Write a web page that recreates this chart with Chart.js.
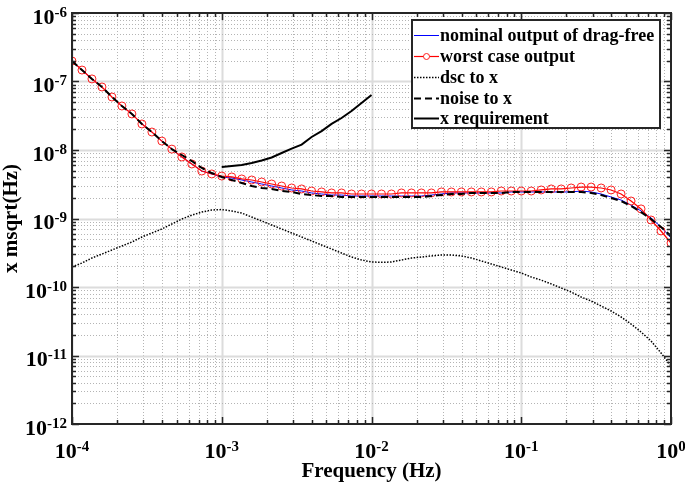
<!DOCTYPE html>
<html>
<head>
<meta charset="utf-8">
<script src="https://cdn.jsdelivr.net/npm/chart.js@4.4.1/dist/chart.umd.min.js"></script>
<style>
  html, body { margin: 0; padding: 0; background: #fff; }
  canvas { display: block; }
</style>
</head>
<body>
<canvas id="chart" width="685" height="487"></canvas>
<script>
// frequency grid of the curves (Hz), 15 points per decade
const freq = [
  1.000e-4, 1.166e-4, 1.359e-4, 1.585e-4, 1.848e-4, 2.154e-4, 2.512e-4, 2.929e-4, 3.415e-4, 3.981e-4, 4.642e-4, 5.412e-4, 6.310e-4, 7.356e-4, 8.577e-4,
  1.000e-3, 1.166e-3, 1.359e-3, 1.585e-3, 1.848e-3, 2.154e-3, 2.512e-3, 2.929e-3, 3.415e-3, 3.981e-3, 4.642e-3, 5.412e-3, 6.310e-3, 7.356e-3, 8.577e-3,
  1.000e-2, 1.166e-2, 1.359e-2, 1.585e-2, 1.848e-2, 2.154e-2, 2.512e-2, 2.929e-2, 3.415e-2, 3.981e-2, 4.642e-2, 5.412e-2, 6.310e-2, 7.356e-2, 8.577e-2,
  1.000e-1, 1.166e-1, 1.359e-1, 1.585e-1, 1.848e-1, 2.154e-1, 2.512e-1, 2.929e-1, 3.415e-1, 3.981e-1, 4.642e-1, 5.412e-1, 6.310e-1, 7.356e-1, 8.577e-1,
  1.000
];

const nominal = [
  1.99e-7, 1.47e-7, 1.09e-7, 8.32e-8, 5.94e-8, 4.39e-8, 3.36e-8, 2.40e-8, 1.83e-8, 1.35e-8, 1.03e-8, 7.91e-9, 6.25e-9, 4.93e-9, 4.47e-9,
  4.04e-9, 3.90e-9, 3.65e-9, 3.41e-9, 3.19e-9, 2.98e-9, 2.79e-9, 2.61e-9, 2.52e-9, 2.36e-9, 2.28e-9, 2.20e-9, 2.20e-9, 2.13e-9, 2.13e-9,
  2.13e-9, 2.13e-9, 2.13e-9, 2.13e-9, 2.13e-9, 2.13e-9, 2.20e-9, 2.28e-9, 2.36e-9, 2.36e-9, 2.36e-9, 2.36e-9, 2.36e-9, 2.36e-9, 2.44e-9,
  2.44e-9, 2.44e-9, 2.44e-9, 2.44e-9, 2.44e-9, 2.44e-9, 2.52e-9, 2.44e-9, 2.28e-9, 2.06e-9, 1.86e-9, 1.57e-9, 1.29e-9, 1.02e-9, 7.52e-10,
  5.19e-10
];

const worstCase = [
  1.99e-7, 1.47e-7, 1.09e-7, 8.32e-8, 5.94e-8, 4.39e-8, 3.36e-8, 2.40e-8, 1.83e-8, 1.35e-8, 1.03e-8, 7.91e-9, 6.25e-9, 4.93e-9, 4.47e-9,
  4.17e-9, 4.04e-9, 3.78e-9, 3.65e-9, 3.41e-9, 3.19e-9, 2.98e-9, 2.79e-9, 2.70e-9, 2.52e-9, 2.44e-9, 2.36e-9, 2.36e-9, 2.28e-9, 2.28e-9,
  2.28e-9, 2.28e-9, 2.28e-9, 2.36e-9, 2.36e-9, 2.36e-9, 2.36e-9, 2.44e-9, 2.44e-9, 2.44e-9, 2.44e-9, 2.44e-9, 2.44e-9, 2.52e-9, 2.52e-9,
  2.52e-9, 2.52e-9, 2.61e-9, 2.70e-9, 2.70e-9, 2.79e-9, 2.88e-9, 2.88e-9, 2.79e-9, 2.61e-9, 2.28e-9, 1.80e-9, 1.38e-9, 9.51e-10, 6.57e-10,
  4.39e-10
];

const dscToX = [
  1.96e-10, 2.24e-10, 2.65e-10, 3.03e-10, 3.47e-10, 3.97e-10, 4.54e-10, 5.37e-10, 6.14e-10, 7.03e-10, 8.32e-10, 9.84e-10, 1.12e-9, 1.24e-9, 1.33e-9,
  1.35e-9, 1.29e-9, 1.20e-9, 1.05e-9, 9.20e-10, 8.04e-10, 7.03e-10, 6.14e-10, 5.37e-10, 4.70e-10, 4.10e-10, 3.59e-10, 3.13e-10, 2.74e-10, 2.48e-10,
  2.32e-10, 2.29e-10, 2.32e-10, 2.48e-10, 2.65e-10, 2.74e-10, 2.84e-10, 2.93e-10, 2.93e-10, 2.84e-10, 2.65e-10, 2.40e-10, 2.17e-10, 1.96e-10, 1.77e-10,
  1.60e-10, 1.40e-10, 1.26e-10, 1.11e-10, 9.67e-11, 8.45e-11, 7.14e-11, 6.25e-11, 5.28e-11, 4.47e-11, 3.65e-11, 2.88e-11, 2.20e-11, 1.63e-11, 1.09e-11,
  7.03e-12
];

const noiseToX = [
  1.99e-7, 1.47e-7, 1.09e-7, 8.32e-8, 5.94e-8, 4.39e-8, 3.36e-8, 2.40e-8, 1.83e-8, 1.35e-8, 1.03e-8, 8.45e-9, 6.90e-9, 5.46e-9, 4.61e-9,
  4.04e-9, 3.65e-9, 3.30e-9, 2.98e-9, 2.79e-9, 2.70e-9, 2.52e-9, 2.44e-9, 2.28e-9, 2.20e-9, 2.13e-9, 2.13e-9, 2.06e-9, 2.06e-9, 2.06e-9,
  2.06e-9, 2.06e-9, 2.06e-9, 2.06e-9, 2.06e-9, 2.06e-9, 2.13e-9, 2.20e-9, 2.28e-9, 2.28e-9, 2.36e-9, 2.36e-9, 2.36e-9, 2.36e-9, 2.44e-9,
  2.44e-9, 2.44e-9, 2.44e-9, 2.44e-9, 2.44e-9, 2.44e-9, 2.44e-9, 2.36e-9, 2.20e-9, 1.99e-9, 1.80e-9, 1.52e-9, 1.24e-9, 9.84e-10, 7.52e-10,
  5.56e-10
];

// requirement only defined between 1e-3 and 1e-2 Hz
const reqFreq = [
  1.000e-3, 1.166e-3, 1.359e-3, 1.585e-3, 1.848e-3, 2.154e-3, 2.512e-3, 2.929e-3, 3.415e-3, 3.981e-3, 4.642e-3, 5.412e-3, 6.310e-3, 7.356e-3, 8.577e-3,
  1.000e-2
];
const requirement = [
  5.65e-9, 5.84e-9, 6.04e-9, 6.46e-9, 7.03e-9, 7.78e-9, 9.04e-9, 1.05e-8, 1.20e-8, 1.55e-8, 1.89e-8, 2.40e-8, 2.93e-8, 3.71e-8, 4.85e-8,
  6.35e-8
];

const xTickExps = [-4, -3, -2, -1, 0];
const yTickExps = [-12, -11, -10, -9, -8, -7, -6];
const seriesNames = ['nominal output of drag-free', 'worst case output', 'dsc to x', 'noise to x', 'x requirement'];

const SERIF = '"Liberation Serif", "Times New Roman", serif';

function toPoints(xs, ys) {
    return xs.map((f, i) => ({ x: f, y: ys[i] }));
}

// 10 with a raised exponent, like matlab tick labels
function powerLabel(ctx, exp, x, y, align) {
    const base = '10';
    const sup = String(exp);
    ctx.font = 'bold 22px ' + SERIF;
    const wb = ctx.measureText(base).width;
    ctx.font = 'bold 15px ' + SERIF;
    const ws = ctx.measureText(sup).width;
    const x0 = align === 'right' ? x - wb - ws : x - (wb + ws) / 2;
    ctx.fillStyle = '#000';
    ctx.textAlign = 'left';
    ctx.textBaseline = 'alphabetic';
    ctx.font = 'bold 22px ' + SERIF;
    ctx.fillText(base, x0, y);
    ctx.font = 'bold 15px ' + SERIF;
    ctx.fillText(sup, x0 + wb, y - 7);
}

function drawGrid(chart) {
    const { ctx, chartArea: a, scales } = chart;
    ctx.save();
    ctx.beginPath();
    ctx.rect(a.left, a.top, a.right - a.left, a.bottom - a.top);
    ctx.clip();

    // vertical lines
    for (let e = -4; e < 0; e++) {
        for (let m = 1; m <= 9; m++) {
            const px = Math.round(scales.x.getPixelForValue(m * Math.pow(10, e))) + 0.5;
            ctx.beginPath();
            if (m === 1) {
                ctx.setLineDash([]);
                ctx.strokeStyle = '#dcdcdc';
                ctx.lineWidth = 2;
            } else {
                ctx.setLineDash([1, 2]);
                ctx.strokeStyle = '#b4b4b4';
                ctx.lineWidth = 1;
            }
            ctx.moveTo(px, a.top);
            ctx.lineTo(px, a.bottom);
            ctx.stroke();
        }
    }
    // horizontal lines
    for (let e = -12; e < -6; e++) {
        for (let m = 1; m <= 9; m++) {
            const py = Math.round(scales.y.getPixelForValue(m * Math.pow(10, e))) + 0.5;
            ctx.beginPath();
            if (m === 1) {
                ctx.setLineDash([]);
                ctx.strokeStyle = '#dcdcdc';
                ctx.lineWidth = 2;
            } else {
                ctx.setLineDash([1, 2]);
                ctx.strokeStyle = '#b4b4b4';
                ctx.lineWidth = 1;
            }
            ctx.moveTo(a.left, py);
            ctx.lineTo(a.right, py);
            ctx.stroke();
        }
    }
    ctx.restore();
}

function drawAxes(chart) {
    const { ctx, chartArea: a, scales } = chart;
    ctx.save();
    ctx.strokeStyle = '#262626';
    ctx.setLineDash([]);

    // inward ticks on all four sides
    ctx.lineWidth = 1.5;
    for (let e = -4; e <= 0; e++) {
        for (let m = 1; m <= 9; m++) {
            if (e === 0 && m > 1) break;
            const px = Math.round(scales.x.getPixelForValue(m * Math.pow(10, e))) + 0.5;
            const len = m === 1 ? 7 : 4;
            ctx.beginPath();
            ctx.moveTo(px, a.bottom);
            ctx.lineTo(px, a.bottom - len);
            ctx.moveTo(px, a.top);
            ctx.lineTo(px, a.top + len);
            ctx.stroke();
        }
    }
    for (let e = -12; e <= -6; e++) {
        for (let m = 1; m <= 9; m++) {
            if (e === -6 && m > 1) break;
            const py = Math.round(scales.y.getPixelForValue(m * Math.pow(10, e))) + 0.5;
            const len = m === 1 ? 7 : 4;
            ctx.beginPath();
            ctx.moveTo(a.left, py);
            ctx.lineTo(a.left + len, py);
            ctx.moveTo(a.right, py);
            ctx.lineTo(a.right - len, py);
            ctx.stroke();
        }
    }

    // box
    ctx.lineWidth = 2;
    ctx.strokeRect(a.left, a.top, a.right - a.left, a.bottom - a.top);

    // tick labels
    xTickExps.forEach(e => {
        powerLabel(ctx, e, scales.x.getPixelForValue(Math.pow(10, e)), a.bottom + 34, 'center');
    });
    yTickExps.forEach(e => {
        powerLabel(ctx, e, a.left - 5, scales.y.getPixelForValue(Math.pow(10, e)) + 10.5, 'right');
    });
    ctx.restore();
}

function drawLegend(chart) {
    const { ctx } = chart;
    const box = { left: 412, top: 20, right: 660, bottom: 128 };
    const rowY = [35, 56, 77, 98, 118];
    ctx.save();
    ctx.fillStyle = '#fff';
    ctx.fillRect(box.left, box.top, box.right - box.left, box.bottom - box.top);
    ctx.strokeStyle = '#262626';
    ctx.lineWidth = 2;
    ctx.strokeRect(box.left, box.top, box.right - box.left, box.bottom - box.top);

    chart.data.datasets.forEach((ds, i) => {
        const y = rowY[i] + 0.5;
        ctx.beginPath();
        ctx.strokeStyle = ds.borderColor;
        ctx.lineWidth = ds.borderWidth;
        ctx.setLineDash(ds.borderDash || []);
        ctx.moveTo(414, y);
        ctx.lineTo(439, y);
        ctx.stroke();
        ctx.setLineDash([]);
        if (ds.pointRadius > 0) {
            ctx.beginPath();
            ctx.fillStyle = '#fff';
            ctx.arc(426.5, y, ds.pointRadius - 1, 0, Math.PI * 2);
            ctx.fill();
            ctx.lineWidth = ds.pointBorderWidth;
            ctx.strokeStyle = ds.pointBorderColor;
            ctx.stroke();
        }
        ctx.fillStyle = '#000';
        ctx.font = 'bold 18px ' + SERIF;
        ctx.textAlign = 'left';
        ctx.textBaseline = 'middle';
        ctx.fillText(ds.label, 440, y + 1);
    });
    ctx.restore();
}

const matlabFrame = {
    id: 'matlabFrame',
    beforeDatasetsDraw(chart) {
        drawGrid(chart);
    },
    afterDatasetsDraw(chart) {
        drawAxes(chart);
        drawLegend(chart);
    }
};

const ctx = document.getElementById('chart').getContext('2d');

new Chart(ctx, {
    type: 'line',
    data: {
        datasets: [{
            label: seriesNames[0],
            data: toPoints(freq, nominal),
            borderColor: '#0000ff',
            borderWidth: 1,
            pointRadius: 0,
            order: 5
        }, {
            label: seriesNames[1],
            data: toPoints(freq, worstCase),
            borderColor: '#ff0000',
            borderWidth: 1.2,
            pointRadius: 4,
            pointBorderColor: '#ff2020',
            pointBackgroundColor: 'rgba(255,255,255,0)',
            pointBorderWidth: 1,
            order: 4
        }, {
            label: seriesNames[2],
            data: toPoints(freq, dscToX),
            borderColor: '#000000',
            borderWidth: 1.5,
            borderDash: [1.5, 1.5],
            pointRadius: 0,
            order: 3
        }, {
            label: seriesNames[3],
            data: toPoints(freq, noiseToX),
            borderColor: '#000000',
            borderWidth: 2,
            borderDash: [7, 4],
            pointRadius: 0,
            order: 2
        }, {
            label: seriesNames[4],
            data: toPoints(reqFreq, requirement),
            borderColor: '#000000',
            borderWidth: 2,
            pointRadius: 0,
            order: 1
        }]
    },
    options: {
        responsive: false,
        animation: false,
        devicePixelRatio: 1,
        layout: { padding: { top: 13, right: 14, left: 0, bottom: 0 } },
        elements: { line: { tension: 0 } },
        plugins: {
            legend: { display: false },
            tooltip: { enabled: false }
        },
        scales: {
            x: {
                type: 'logarithmic',
                min: 1e-4,
                max: 1,
                grid: { display: false },
                border: { display: false },
                ticks: { display: false },
                title: {
                    display: true,
                    text: 'Frequency (Hz)',
                    color: '#000',
                    font: { family: SERIF, weight: 'bold', size: 21 },
                    padding: { top: 0, bottom: 3 }
                },
                afterFit: (scale) => { scale.height = 63; }
            },
            y: {
                type: 'logarithmic',
                min: 1e-12,
                max: 1e-6,
                grid: { display: false },
                border: { display: false },
                ticks: { display: false },
                title: {
                    display: true,
                    text: 'x msqrt(Hz)',
                    color: '#000',
                    font: { family: SERIF, weight: 'bold', size: 21, lineHeight: 1 },
                    padding: { top: 1, bottom: 0 }
                },
                afterFit: (scale) => { scale.width = 72; }
            }
        }
    },
    plugins: [matlabFrame]
});
</script>
</body>
</html>
